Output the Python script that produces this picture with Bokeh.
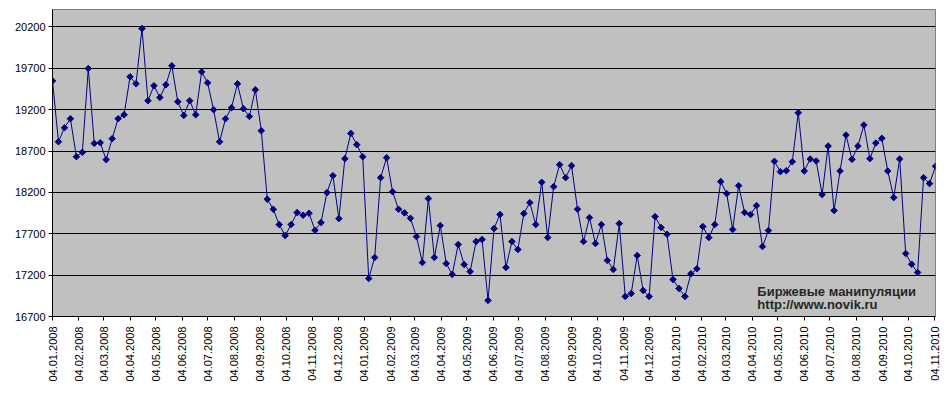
from datetime import datetime
import numpy as np
import pandas as pd
from bokeh.plotting import figure
from bokeh.models import Range1d, FixedTicker, Label, ColumnDataSource
from bokeh.embed import file_html
from bokeh.resources import INLINE

# ---- data ----
start_date = "2008-01-04"   # weekly observations
values = [
    19548, 18812, 18981, 19090, 18631, 18684, 19697, 18792, 18800, 18595,
    18849, 19090, 19138, 19597, 19512, 20180, 19307, 19488, 19347, 19500,
    19730, 19295, 19130, 19307, 19138, 19657, 19524, 19199, 18812, 19090,
    19223, 19512, 19211, 19118, 19440, 18945, 18117, 17996, 17811, 17678,
    17811, 17956, 17924, 17948, 17743, 17835, 18197, 18402, 17883, 18607,
    18913, 18776, 18631, 17159, 17413, 18378, 18619, 18209, 17996, 17952,
    17887, 17666, 17352, 18125, 17413, 17799, 17340, 17208, 17570, 17328,
    17244, 17606, 17630, 16894, 17763, 17932, 17292, 17606, 17509, 17944,
    18076, 17811, 18322, 17654, 18269, 18535, 18378, 18523, 17996, 17606,
    17895, 17582, 17811, 17377, 17268, 17823, 16942, 16978, 17437, 17015,
    16942, 17907, 17775, 17694, 17147, 17039, 16942, 17216, 17276, 17787,
    17654, 17811, 18330, 18185, 17751, 18281, 17956, 17932, 18040, 17545,
    17739, 18575, 18450, 18462, 18571, 19162, 18458, 18603, 18579, 18173,
    18760, 17980, 18458, 18893, 18599, 18760, 19014, 18607, 18796, 18853,
    18458, 18137, 18603, 17461, 17332, 17232, 18378, 18306, 18515,
]
tick_labels = [
    "04.01.2008", "04.02.2008", "04.03.2008", "04.04.2008", "04.05.2008",
    "04.06.2008", "04.07.2008", "04.08.2008", "04.09.2008", "04.10.2008",
    "04.11.2008", "04.12.2008", "04.01.2009", "04.02.2009", "04.03.2009",
    "04.04.2009", "04.05.2009", "04.06.2009", "04.07.2009", "04.08.2009",
    "04.09.2009", "04.10.2009", "04.11.2009", "04.12.2009", "04.01.2010",
    "04.02.2010", "04.03.2010", "04.04.2010", "04.05.2010", "04.06.2010",
    "04.07.2010", "04.08.2010", "04.09.2010", "04.10.2010", "04.11.2010",
]
y_ticks = [16700, 17200, 17700, 18200, 18700, 19200, 19700, 20200]
y_top = 20410
annotation_lines = ["Биржевые манипуляции", "http://www.novik.ru"]

# ---- build ----
dates = pd.date_range(start_date, periods=len(values), freq="7D")
src = ColumnDataSource(dict(date=dates, value=values))

EPOCH = datetime(1970, 1, 1)
def to_ms(d):
    return int((d - EPOCH).total_seconds() * 1000)

tick_ms = [to_ms(datetime.strptime(s, "%d.%m.%Y")) for s in tick_labels]

p = figure(width=943, height=392, x_axis_type="datetime",
           output_backend="svg", toolbar_location=None,
           x_range=Range1d(to_ms(dates[0].to_pydatetime()), to_ms(dates[-1].to_pydatetime())),
           y_range=Range1d(y_ticks[0], y_top),
           min_border_left=52, min_border_right=8, min_border_top=9, min_border_bottom=76)

p.background_fill_color = "#C0C0C0"
p.border_fill_color = "white"
p.outline_line_color = "#808080"
p.outline_line_width = 1

# grid
p.xgrid.grid_line_color = None
p.ygrid.ticker = FixedTicker(ticks=y_ticks)
p.ygrid.grid_line_color = "black"
p.ygrid.grid_line_width = 1

# y axis
p.yaxis.ticker = FixedTicker(ticks=y_ticks)
p.yaxis.axis_line_color = "black"
p.yaxis.major_tick_line_color = "black"
p.yaxis.major_tick_out = 4
p.yaxis.major_tick_in = 0
p.yaxis.minor_tick_line_color = None
p.yaxis.major_label_text_font = "Liberation Sans"
p.yaxis.major_label_text_font_size = "11px"
p.yaxis.major_label_text_color = "black"
p.yaxis.major_label_standoff = 3

# x axis
p.xaxis.ticker = FixedTicker(ticks=tick_ms)
p.xaxis.major_label_overrides = dict(zip(tick_ms, tick_labels))
p.xaxis.major_label_orientation = np.pi / 2
p.xaxis.axis_line_color = "black"
p.xaxis.major_tick_line_color = "black"
p.xaxis.major_tick_out = 4
p.xaxis.major_tick_in = 0
p.xaxis.minor_tick_line_color = None
p.xaxis.major_label_text_font = "Liberation Sans"
p.xaxis.major_label_text_font_size = "11px"
p.xaxis.major_label_text_color = "black"
p.xaxis.major_label_standoff = 6

# series
p.line("date", "value", source=src, line_color="#000080", line_width=1)
p.scatter("date", "value", source=src, marker="square", angle=np.pi / 4,
          size=4.6, fill_color="#000080", line_color="#000080", line_width=1)

# annotation
ann_x = to_ms(datetime(2010, 4, 10))
p.add_layout(Label(x=ann_x, y=17002, text=annotation_lines[0],
                   text_font="Liberation Sans", text_font_style="bold",
                   text_font_size="13px", text_color="#262626",
                   text_baseline="alphabetic"))
p.add_layout(Label(x=ann_x, y=16839, text=annotation_lines[1],
                   text_font="Liberation Sans", text_font_style="bold",
                   text_font_size="13px", text_color="#262626",
                   text_baseline="alphabetic"))

open("out.html", "w").write(file_html(p, INLINE))
